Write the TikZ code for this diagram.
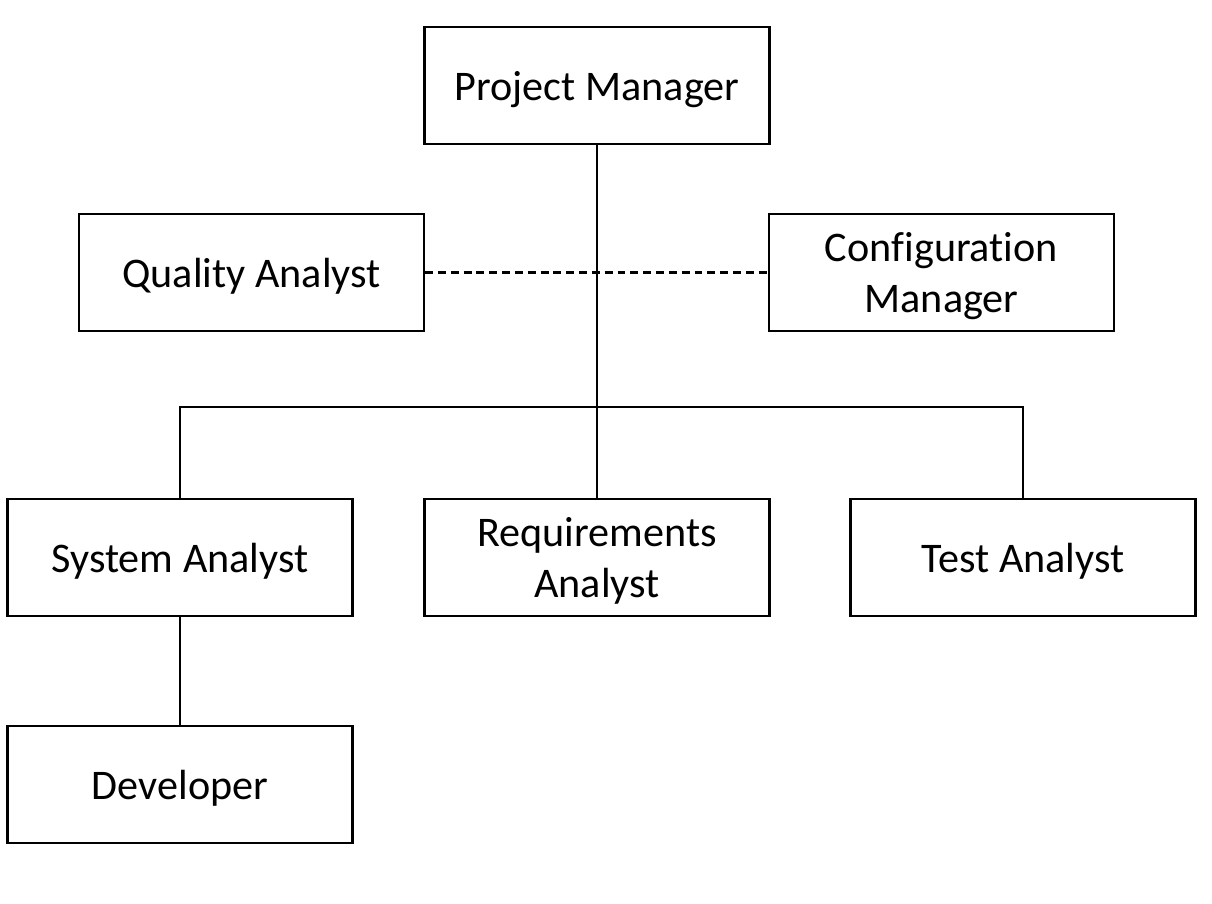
\documentclass[tikz,border=0pt]{standalone}
\usepackage{fontspec}
\setmainfont{Carlito}[Ligatures=NoCommon]
\begin{document}
\begin{tikzpicture}[
    role/.style={draw, line width=1.3pt, minimum width=6.9cm, minimum height=2.34cm,
        align=center, inner sep=2pt, text depth=0pt, font=\fontsize{24}{28.8}\selectfont},
    link/.style={line width=1.3pt},
    peer/.style={line width=1.3pt, dash pattern=on 4.5pt off 2.8pt}]
    \useasboundingbox (0,0) rectangle (24.24,-18.06);
    \node[role] (pm) at (11.94,-1.71) {Project Manager};
    \node[role] (qa) at (5.03,-5.45) {Quality Analyst};
    \node[role] (cm) at (18.83,-5.45) {Configuration\\Manager};
    \node[role] (sa) at (3.6,-11.15) {System Analyst};
    \node[role] (ra) at (11.94,-11.15) {Requirements\\Analyst};
    \node[role] (ta) at (20.46,-11.15) {Test Analyst};
    \node[role] (dev) at (3.6,-15.69) {Developer};
    \coordinate (bar) at (11.94,-8.14);
    \draw[link] (pm) -- (ra);
    \draw[link] (sa.north) |- (bar) -| (ta.north);
    \draw[peer] (qa) -- (cm);
    \draw[link] (sa) -- (dev);
\end{tikzpicture}
\end{document}
